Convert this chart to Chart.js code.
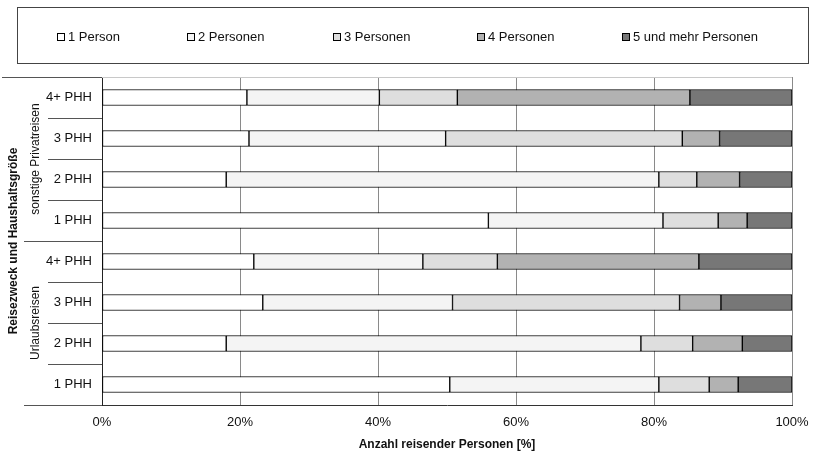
<!DOCTYPE html>
<html>
<head>
<meta charset="utf-8">
<script src="https://cdn.jsdelivr.net/npm/chart.js@4"></script>
<style>
html,body{margin:0;padding:0;background:#fff;}
canvas{display:block;}
</style>
</head>
<body>
<canvas id="c" width="814" height="452"></canvas>
<script>
// ---- data ----
const categories = ['4+ PHH','3 PHH','2 PHH','1 PHH','4+ PHH','3 PHH','2 PHH','1 PHH'];
const groups = ['sonstige Privatreisen','Urlaubsreisen'];
const seriesNames = ['1 Person','2 Personen','3 Personen','4 Personen','5 und mehr Personen'];
const p1 = [21.0,21.3,18.0,56.0,22.0,23.3,18.0,50.4];
const p2 = [19.2,28.5,62.7,25.3,24.5,27.5,60.1,30.3];
const p3 = [11.3,34.3,5.5,8.0,10.8,32.9,7.5,7.3];
const p4 = [33.7,5.4,6.2,4.2,29.2,6.0,7.2,4.2];
const p5 = [14.8,10.5,7.6,6.5,13.5,10.3,7.2,7.8];
const xTicks = [0,20,40,60,80,100];
const xTitle = 'Anzahl reisender Personen [%]';
const yTitle = 'Reisezweck und Haushaltsgröße';

const colors = ['#ffffff','#f4f4f4','#dedede','#b2b2b2','#777777'];
const FONT = "'Liberation Sans', Arial, sans-serif";
const values = [p1,p2,p3,p4,p5];

const hierarchy = {
  id:'hierarchy',
  afterDraw(chart){
    const ctx = chart.ctx, ys = chart.scales.y, area = chart.chartArea;
    const step = ys.getPixelForValue(1) - ys.getPixelForValue(0);
    const n = categories.length;
    ctx.save();
    ctx.lineWidth = 1;
    // separators
    for(let i=0;i<=n;i++){
      const yy = Math.round(ys.getPixelForValue(i) - step/2) + 0.5;
      let x0;
      if(i===0 || i===n || i===n/2) x0 = 24; else x0 = 48;
      if(i===0) x0 = 2;
      ctx.strokeStyle = '#555';
      ctx.beginPath(); ctx.moveTo(x0,yy); ctx.lineTo(area.left,yy); ctx.stroke();
      if(i===0){
        ctx.strokeStyle = '#c8c8c8';
        ctx.beginPath(); ctx.moveTo(area.left,yy); ctx.lineTo(area.right,yy); ctx.stroke();
      }
    }
    // group labels
    ctx.fillStyle = '#111';
    ctx.font = '12px ' + FONT;
    ctx.textAlign = 'center'; ctx.textBaseline = 'middle';
    const half = n/2;
    groups.forEach((g,gi)=>{
      const yTop = ys.getPixelForValue(gi*half) - step/2;
      const yBot = ys.getPixelForValue(gi*half+half-1) + step/2;
      ctx.save();
      ctx.translate(36,(yTop+yBot)/2);
      ctx.rotate(-Math.PI/2);
      ctx.fillText(g,0,0);
      ctx.restore();
    });
    // outer title
    ctx.font = 'bold 12px ' + FONT;
    ctx.save();
    ctx.translate(14,(area.top+area.bottom)/2);
    ctx.rotate(-Math.PI/2);
    ctx.fillText(yTitle,0,0);
    ctx.restore();
    // legend
    ctx.strokeStyle = '#444';
    ctx.strokeRect(17.5,7.5,791,56);
    const lx = [57,187,333,477,622];
    ctx.font = '13px ' + FONT;
    ctx.textAlign = 'left';
    seriesNames.forEach((s,i)=>{
      ctx.fillStyle = colors[i];
      ctx.fillRect(lx[i]+0.5,33.5,7,7);
      ctx.strokeStyle = '#000';
      ctx.strokeRect(lx[i]+0.5,33.5,7,7);
      ctx.fillStyle = '#111';
      ctx.fillText(s,lx[i]+11,37.5);
    });
    ctx.restore();
  }
};

new Chart(document.getElementById('c'),{
  type:'bar',
  data:{
    labels:categories,
    datasets: seriesNames.map((s,i)=>({
      label:s,
      data:values[i],
      backgroundColor:colors[i],
      borderColor:'#000',
      borderWidth:1,
      borderSkipped:false,
      barThickness:16
    }))
  },
  options:{
    indexAxis:'y',
    responsive:false,
    animation:false,
    layout:{padding:{top:77,right:22,bottom:0,left:0}},
    plugins:{legend:{display:false},tooltip:{enabled:false}},
    scales:{
      x:{
        stacked:true,min:0,max:100,
        afterBuildTicks(scale){ scale.ticks = xTicks.map(v=>({value:v})); },
        afterFit(scale){ scale.height = 47; scale.paddingLeft = 0; scale.paddingRight = 0; },
        ticks:{callback:v=>v+'%',color:'#111',font:{family:FONT,size:13},padding:10,maxRotation:0},
        grid:{color:'#8a8a8a',drawTicks:false,lineWidth:1},
        border:{display:true,color:'#333'},
        title:{display:true,text:xTitle,color:'#111',font:{family:FONT,size:12,weight:'bold'},padding:{top:4,bottom:0}}
      },
      y:{
        stacked:true,
        afterFit(scale){ scale.width = 102; scale.paddingTop = 0; scale.paddingBottom = 0; },
        ticks:{color:'#111',font:{family:FONT,size:13},padding:10},
        grid:{display:false,drawTicks:false},
        border:{display:true,color:'#222'}
      }
    }
  },
  plugins:[hierarchy]
});
</script>
</body>
</html>
